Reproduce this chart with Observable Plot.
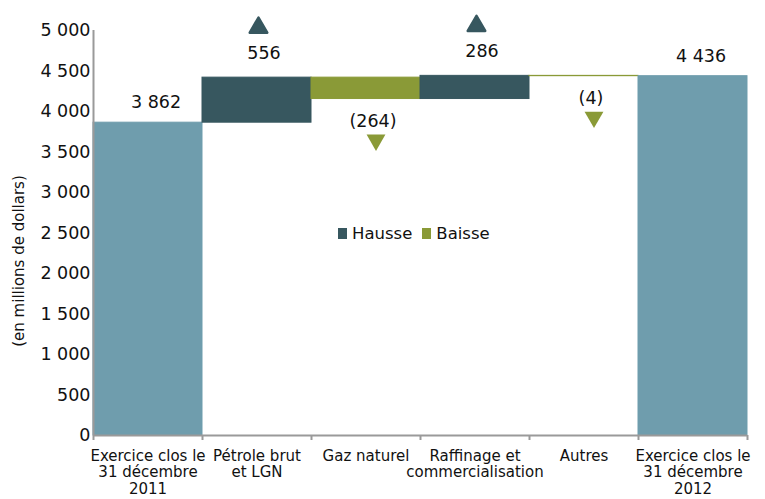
<!DOCTYPE html>
<html>
<head>
<meta charset="utf-8">
<script src="https://cdn.jsdelivr.net/npm/d3@7"></script>
<script src="https://cdn.jsdelivr.net/npm/@observablehq/plot@0.6"></script>
<style>
  body { margin: 0; background: white; }
  #wrap { position: relative; width: 765px; height: 499px; font-family: "DejaVu Sans", sans-serif; }
  #legend { position: absolute; left: 338px; top: 224px; display: flex; align-items: center; font-size: 16.5px; color: #111; white-space: nowrap; }
  #legend .sw { display: inline-block; width: 9px; height: 11px; margin-right: 5px; }
  #legend .item { display: flex; align-items: center; margin-right: 10px; }
</style>
</head>
<body>
<div id="wrap"><div id="legend"></div></div>
<script>
const categories = [
  "Exercice clos le\n31 décembre\n2011",
  "Pétrole brut\net LGN",
  "Gaz naturel",
  "Raffinage et\ncommercialisation",
  "Autres",
  "Exercice clos le\n31 décembre\n2012"
];
const values = [3862, 556, -264, 286, -4, 4436];
const kinds = ["total", "hausse", "baisse", "hausse", "baisse", "total"];
const yTicks = [0, 500, 1000, 1500, 2000, 2500, 3000, 3500, 4000, 4500, 5000];
const legendLabels = {hausse: "Hausse", baisse: "Baisse"};
const colors = {total: "#6f9dad", hausse: "#37575f", baisse: "#8a9a37"};

const fr = d3.formatLocale({decimal: ",", thousands: " ", grouping: [3], currency: ["", " €"]});
const fmt = fr.format(",d");

// build waterfall rows
let run = 0;
const rows = values.map((v, i) => {
  let y1, y2;
  if (kinds[i] === "total") { y1 = 0; y2 = v; run = v; }
  else { y1 = run; y2 = run + v; run = y2; }
  const label = v < 0 ? `(${fmt(-v)})` : fmt(v);
  return {i, cat: categories[i], kind: kinds[i], v, y1, y2, top: Math.max(y1, y2), bottom: Math.min(y1, y2), label};
});
const totals = rows.filter(d => d.kind === "total");
const ups = rows.filter(d => d.kind === "hausse");
const downs = rows.filter(d => d.kind === "baisse");
const cx = d => d.i + 0.5;

const chart = Plot.plot({
  width: 765,
  height: 499,
  marginLeft: 93,
  marginRight: 18,
  marginTop: 30,
  marginBottom: 64,
  x: {type: "linear", domain: [0, categories.length], axis: null},
  y: {domain: [0, 5000], axis: null},
  color: {domain: Object.keys(colors), range: Object.values(colors)},
  style: {fontFamily: "DejaVu Sans", background: "white", color: "#111", overflow: "visible"},
  marks: [
    Plot.rectY(rows, {x1: "i", x2: d => d.i + 1, y1: "y1", y2: "y2", fill: "kind", stroke: "kind", strokeWidth: 1}),
    // axes
    Plot.ruleX([0], {stroke: "#9a9a9a", strokeWidth: 2}),
    Plot.ruleY([0], {stroke: "#9a9a9a", strokeWidth: 2}),
    Plot.axisX({ticks: d3.range(0, categories.length + 1), tickSize: 5, tickFormat: () => "", label: null, stroke: "#9a9a9a", strokeWidth: 2}),
    Plot.axisX({ticks: categories.map((c, i) => i + 0.5), tickSize: 0, tickPadding: 13, label: null, tickFormat: t => categories[Math.round(t - 0.5)], fontSize: 15, lineHeight: 1.13, fill: "#111"}),
    Plot.axisY({ticks: yTicks, tickSize: 0, tickPadding: 3, label: null, tickFormat: fmt, fontSize: 17.5, fill: "#111"}),
    Plot.text(["(en millions de dollars)"], {frameAnchor: "left", textAnchor: "middle", rotate: -90, dx: -74, dy: 28, fontSize: 15, fill: "#111"}),
    // value labels
    Plot.text(totals, {x: cx, y: "top", text: "label", dy: -20, dx: 8, fontSize: 17.5, fill: "#111"}),
    Plot.text(ups, {x: cx, y: "top", text: "label", dy: -24, dx: 7, fontSize: 17.5, fill: "#111"}),
    Plot.text(downs, {x: cx, y: "bottom", text: "label", dy: 22, dx: 7, fontSize: 17.5, fill: "#111"}),
    // markers
    Plot.dot(ups, {x: cx, y: "top", symbol: "triangle", r: 6.5, dy: -50, dx: 1.5, fill: "kind", stroke: "kind", strokeWidth: 2.5, strokeLinejoin: "round"}),
    Plot.dot(downs, {x: cx, y: "bottom", symbol: "triangle", r: 7, rotate: 180, dy: 41, dx: 10, fill: "kind"})
  ]
});
const wrap = document.getElementById("wrap");
wrap.insertBefore(chart, wrap.firstChild);

const legend = document.getElementById("legend");
for (const k of ["hausse", "baisse"]) {
  const item = document.createElement("span");
  item.className = "item";
  const sw = document.createElement("span");
  sw.className = "sw";
  sw.style.background = colors[k];
  item.appendChild(sw);
  item.appendChild(document.createTextNode(legendLabels[k]));
  legend.appendChild(item);
}
</script>
</body>
</html>
